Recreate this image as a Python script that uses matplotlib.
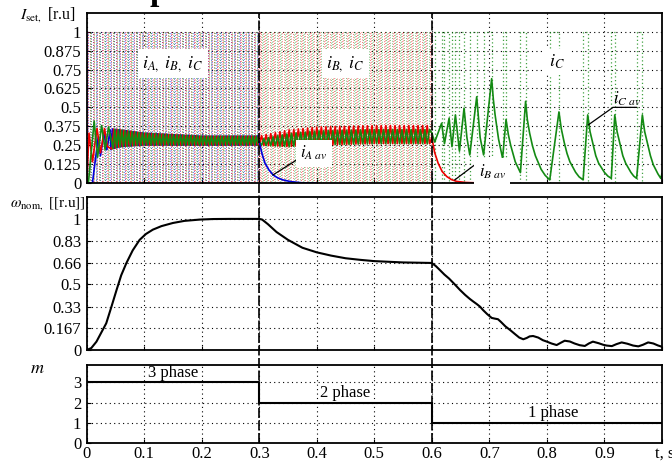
import numpy as np
import matplotlib.pyplot as plt
from matplotlib.lines import Line2D

plt.rcParams['font.family'] = ['Liberation Serif', 'DejaVu Serif']
plt.rcParams['mathtext.fontset'] = 'stix'

# ---- top panel: averaged phase currents (t, value)
iA_start_t = [0, 0.010, 0.020, 0.024, 0.030, 0.035, 0.041]
iA_start_v = [0, 0, 0.30, 0.18, 0.33, 0.22, 0.35]
iB_start_t = [0, 0.004, 0.010, 0.018, 0.024, 0.031, 0.036]
iB_start_v = [0, 0.33, 0.14, 0.36, 0.20, 0.36, 0.24]
iC_start_t = [0, 0.003, 0.013, 0.019, 0.026, 0.032, 0.038]
iC_start_v = [0, 0, 0.41, 0.17, 0.38, 0.22, 0.37]

# ripple band envelope (t, low, high)
band_t = [0.04, 0.06, 0.10, 0.20, 0.30, 0.35, 0.40, 0.50, 0.60]
band_lo = [0.22, 0.24, 0.25, 0.25, 0.25, 0.24, 0.25, 0.26, 0.26]
band_hi = [0.36, 0.35, 0.33, 0.31, 0.31, 0.35, 0.37, 0.38, 0.38]
ripple_3ph = 0.006
ripple_2ph = 0.008

# decay of i_A after 0.3 and i_B after 0.6
iA_decay_t = [0.300, 0.305, 0.310, 0.317, 0.324, 0.332, 0.341, 0.355, 0.376, 0.40]
iA_decay_v = [0.27, 0.19, 0.13, 0.085, 0.053, 0.033, 0.02, 0.008, 0.0, 0.0]
iB_decay_t = [0.600, 0.605, 0.611, 0.618, 0.626, 0.634, 0.643, 0.658, 0.678, 0.70]
iB_decay_v = [0.30, 0.20, 0.13, 0.075, 0.042, 0.022, 0.01, 0.003, 0.0, 0.0]

# single-phase i_C after 0.6
iC_1ph_t = [0.600, 0.605, 0.617, 0.622, 0.630, 0.635, 0.641, 0.648, 0.656, 0.661, 0.666,
            0.678, 0.684, 0.690, 0.704, 0.707, 0.710, 0.716, 0.723, 0.729, 0.733, 0.737,
            0.745, 0.754, 0.763, 0.766, 0.770, 0.775, 0.780, 0.790, 0.797, 0.805,
            0.821, 0.825, 0.830, 0.835, 0.840, 0.850, 0.856, 0.863,
            0.871, 0.875, 0.880, 0.885, 0.890, 0.900, 0.906, 0.912,
            0.918, 0.922, 0.927, 0.932, 0.937, 0.946, 0.951, 0.956,
            0.966, 0.970, 0.975, 0.980, 0.985, 0.993, 0.998, 1.0]
iC_1ph_v = [0.33, 0.27, 0.395, 0.26, 0.428, 0.24, 0.45, 0.21, 0.495, 0.30, 0.185,
            0.57, 0.30, 0.185, 0.69, 0.55, 0.45, 0.29, 0.163, 0.42, 0.32, 0.25,
            0.14, 0.068, 0.54, 0.42, 0.33, 0.245, 0.18, 0.09, 0.05, 0.02,
            0.47, 0.36, 0.27, 0.195, 0.14, 0.07, 0.04, 0.02,
            0.45, 0.34, 0.26, 0.18, 0.13, 0.07, 0.045, 0.03,
            0.45, 0.34, 0.26, 0.18, 0.13, 0.07, 0.045, 0.03,
            0.45, 0.34, 0.26, 0.18, 0.12, 0.06, 0.03, 0.06]
# PWM pulses of phase C in the single-phase interval (on, off)
pulse_on = [0.605, 0.622, 0.635, 0.648, 0.666, 0.690, 0.723, 0.754, 0.805, 0.863, 0.912, 0.956]
pulse_off = [0.617, 0.630, 0.641, 0.656, 0.678, 0.704, 0.729, 0.763, 0.821, 0.871, 0.918, 0.966]
pwm_period = 0.008
pwm_duty = 0.28

# ---- middle panel: speed
w_t = [0, 0.008, 0.017, 0.025, 0.034, 0.043, 0.052, 0.060, 0.069, 0.080, 0.092,
       0.103, 0.115, 0.130, 0.150, 0.170, 0.197, 0.22, 0.25, 0.30,
       0.305, 0.315, 0.330, 0.350, 0.375, 0.400, 0.425, 0.450, 0.475, 0.50, 0.55, 0.60,
       0.607, 0.614, 0.622, 0.630, 0.640, 0.649, 0.658, 0.666, 0.672, 0.678, 0.684,
       0.689, 0.696, 0.704, 0.709, 0.715, 0.720, 0.728, 0.736, 0.745, 0.752, 0.759,
       0.765, 0.770, 0.776, 0.785, 0.793, 0.800, 0.808, 0.817, 0.824, 0.831,
       0.840, 0.848, 0.857, 0.866, 0.873, 0.880, 0.890, 0.898, 0.904, 0.913,
       0.921, 0.930, 0.940, 0.950, 0.959, 0.967, 0.976, 0.985, 0.993, 1.0]
w_v = [0, 0.015, 0.064, 0.13, 0.204, 0.33, 0.459, 0.57, 0.663, 0.76, 0.84,
       0.885, 0.918, 0.945, 0.969, 0.985, 0.995, 0.999, 1.0, 1.0,
       0.995, 0.96, 0.90, 0.84, 0.78, 0.745, 0.72, 0.70, 0.688, 0.678, 0.668, 0.664,
       0.64, 0.61, 0.575, 0.545, 0.50, 0.458, 0.42, 0.39, 0.37, 0.351, 0.33,
       0.305, 0.275, 0.245, 0.24, 0.235, 0.215, 0.18, 0.153, 0.12, 0.095, 0.082,
       0.092, 0.104, 0.107, 0.095, 0.075, 0.064, 0.05, 0.038, 0.055, 0.071,
       0.065, 0.05, 0.037, 0.031, 0.05, 0.064, 0.052, 0.04, 0.034, 0.03,
       0.045, 0.058, 0.048, 0.034, 0.028, 0.04, 0.058, 0.05, 0.035, 0.025]

# ---- bottom panel: number of phases
m_t = [0, 0.3, 0.6, 1.0]
m_v = [3, 2, 1, 1]

RED, BLUE, GREEN = '#ee0000', '#0000dd', '#138a13'


def ripple(t0, t1, period, shift, lo_scale=1.0):
    tt = np.arange(t0 + shift * period, t1, period / 2)
    lo = np.interp(tt, band_t, band_lo)
    hi = np.interp(tt, band_t, band_hi) * lo_scale
    vv = np.where(np.arange(len(tt)) % 2 == 0, lo, hi)
    return tt, vv


def pwm(t_on, t_off):
    xs, ys = [], []
    for a, b in zip(t_on, t_off):
        xs += [a, a, b, b, np.nan]
        ys += [0, 1, 1, 0, np.nan]
    return xs, ys


def pwm_train(t0, t1, shift):
    starts = np.arange(t0 + shift * pwm_period, t1, pwm_period)
    return pwm(starts, starts + pwm_duty * pwm_period)


fig = plt.figure(figsize=(6.72, 4.63), dpi=100)
ax1 = fig.add_axes([0.129, 0.605, 0.856, 0.367])
ax2 = fig.add_axes([0.129, 0.244, 0.856, 0.3305])
ax3 = fig.add_axes([0.129, 0.043, 0.856, 0.1685])

for ax in (ax1, ax2, ax3):
    ax.set_xlim(0, 1)
    ax.set_xticks(np.arange(0, 1.01, 0.1))
    ax.grid(True, color='black', linestyle=(0, (1, 3)), linewidth=0.8)
    ax.tick_params(direction='in', length=3, labelsize=12, pad=4)
    ax.tick_params(axis='x', pad=2)
    for s in ax.spines.values():
        s.set_linewidth(1.3)
ax1.set_xticklabels([])
ax2.set_xticklabels([])
ax3.set_xticklabels(['0', '0.1', '0.2', '0.3', '0.4', '0.5', '0.6', '0.7', '0.8', '0.9', ''])

# --- top panel: PWM switching signals (dotted)
for col, sh, off in ((BLUE, 0.0, 0), (RED, 1 / 3, 1.2), (GREEN, 2 / 3, 2.4)):
    x, y = pwm_train(0.0, 0.3, sh)
    ax1.plot(x, y, color=col, linewidth=0.6, linestyle=(off, (1, 2.2)), alpha=0.7)
for col, sh, off in ((RED, 0.0, 0), (GREEN, 0.5, 1.7)):
    x, y = pwm_train(0.3, 0.6, sh)
    ax1.plot(x, y, color=col, linewidth=0.6, linestyle=(off, (1, 2.2)), alpha=0.7)
x, y = pwm(pulse_on, pulse_off)
ax1.plot(x, y, color=GREEN, linewidth=0.9, linestyle=(0, (1, 2)), alpha=0.8)

cur_lw = 1.2
for col, st, sv, sh in ((BLUE, iA_start_t, iA_start_v, 0.0),
                        (RED, iB_start_t, iB_start_v, 1 / 3),
                        (GREEN, iC_start_t, iC_start_v, 2 / 3)):
    tt, vv = ripple(0.042, 0.3, ripple_3ph, sh)
    ax1.plot(list(st) + list(tt), list(sv) + list(vv), color=col, lw=cur_lw)
tt, vv = ripple(0.3, 0.6, ripple_2ph, 0.0)
ax1.plot(np.r_[0.3, tt, 0.6], np.r_[0.27, vv, 0.30], color=RED, lw=cur_lw)
tt, vv = ripple(0.3, 0.6, ripple_2ph, 0.5, lo_scale=0.93)
ax1.plot(np.r_[0.3, tt, 0.6], np.r_[0.27, vv, 0.33], color=GREEN, lw=cur_lw)
ax1.plot(iA_decay_t, iA_decay_v, color=BLUE, lw=cur_lw)
ax1.plot(iB_decay_t, iB_decay_v, color=RED, lw=cur_lw)
ax1.plot(iC_1ph_t, iC_1ph_v, color=GREEN, lw=cur_lw)

ax1.set_ylim(0, 1.125)
ax1.set_yticks([0, 0.125, 0.25, 0.375, 0.5, 0.625, 0.75, 0.875, 1])
ax1.set_yticklabels(['0', '0.125', '0.25', '0.375', '0.5', '0.625', '0.75', '0.875', '1'])

box = dict(facecolor='white', edgecolor='none', pad=3)
ax1.text(0.15, 0.79, r'$i_{A,}\ i_{B,}\ i_C$', ha='center', va='center', fontsize=13, bbox=box)
ax1.text(0.45, 0.79, r'$i_{B,}\ i_C$', ha='center', va='center', fontsize=13, bbox=box)
ax1.text(0.818, 0.80, r'$i_C$', ha='center', va='center', fontsize=13, bbox=box)

ax1.plot([0.324, 0.365], [0.053, 0.152], color='black', lw=0.9)
ax1.text(0.395, 0.196, r'$i_{A\ av}$', ha='center', va='center', fontsize=12, bbox=box)
ax1.plot([0.64, 0.68, 0.724], [0.02, 0.135, 0.135], color='black', lw=0.9)
ax1.text(0.705, 0.075, r'$i_{B\ av}$', ha='center', va='center', fontsize=12, bbox=box)
ax1.plot([0.872, 0.915, 0.956], [0.384, 0.50, 0.50], color='black', lw=0.9)
ax1.text(0.94, 0.554, r'$i_{C\ av}$', ha='center', va='center', fontsize=12)

# --- middle panel
ax2.plot(w_t, w_v, color='black', lw=1.5)
ax2.set_ylim(0, 1.167)
ax2.set_yticks([0, 0.167, 0.33, 0.5, 0.66, 0.83, 1])
ax2.set_yticklabels(['0', '0.167', '0.33', '0.5', '0.66', '0.83', '1'])

# --- bottom panel
ax3.plot(m_t, m_v, drawstyle='steps-post', color='black', lw=1.5)
ax3.set_ylim(0, 3.85)
ax3.set_yticks([0, 1, 2, 3])
ax3.text(0.15, 3.08, '3 phase', ha='center', va='bottom', fontsize=12)
ax3.text(0.449, 2.08, '2 phase', ha='center', va='bottom', fontsize=12)
ax3.text(0.811, 1.08, '1 phase', ha='center', va='bottom', fontsize=12)

# phase switch markers across all panels
for tsw in (0.3, 0.6):
    xf = 0.129 + 0.856 * tsw
    fig.add_artist(Line2D([xf, xf], [0.043, 0.972], transform=fig.transFigure,
                          color='black', lw=1.2, dashes=(6, 1.5)))

fig.text(0.03, 0.968, r'$I_{\mathrm{set,}}$ [r.u]', fontsize=11.5, va='center')
fig.text(0.015, 0.561, r'$\omega_{\mathrm{nom,}}$ [[r.u]]', fontsize=11, va='center')
fig.text(0.045, 0.205, r'$m$', fontsize=13, va='center')
fig.text(0.975, 0.02, 't, s', fontsize=12, va='center')
fig.text(0.222, 1.0, 'p', fontsize=24, fontweight='bold', va='baseline')

fig.savefig('out.png', dpi=100)
